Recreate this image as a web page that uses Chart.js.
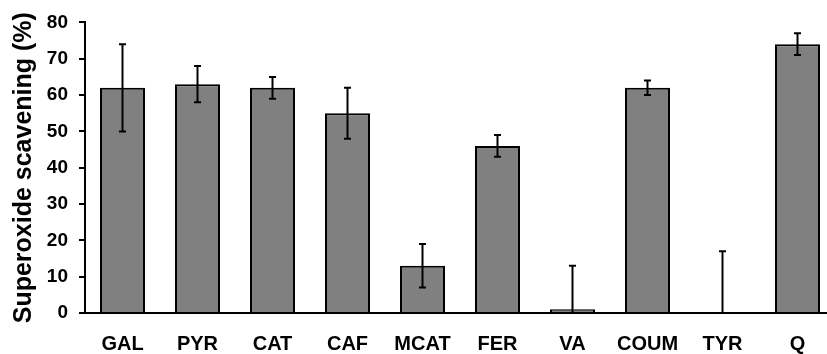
<!DOCTYPE html>
<html>
<head>
<meta charset="utf-8">
<script src="https://cdn.jsdelivr.net/npm/chart.js@4"></script>
<style>
    html, body { margin: 0; padding: 0; background: #fff; overflow: hidden; }
    #wrap { width: 835px; height: 367px; }
</style>
</head>
<body>
<div id="wrap"><canvas id="barChart"></canvas></div>
<script>
const compounds = ['GAL', 'PYR', 'CAT', 'CAF', 'MCAT', 'FER', 'VA', 'COUM', 'TYR', 'Q'];
const scavenging = [62, 63, 62, 55, 13, 46, 1, 62, 0, 74];
const errors = [12, 5, 3, 7, 6, 3, 12, 2, 17, 3];
const yTicks = [0, 10, 20, 30, 40, 50, 60, 70, 80];

// draw error bars from the scales, clipped to the chart area
const errorBars = {
    id: 'errorBars',
    afterDatasetsDraw(chart) {
        const ctx = chart.ctx;
        const area = chart.chartArea;
        const xs = chart.scales.x;
        const ys = chart.scales.y;
        ctx.save();
        ctx.beginPath();
        ctx.rect(area.left, area.top - 2, area.right - area.left, area.bottom - area.top + 2);
        ctx.clip();
        ctx.strokeStyle = '#000';
        ctx.lineWidth = 2;
        for (let i = 0; i < scavenging.length; i++) {
            const x = xs.getPixelForValue(i);
            const yHi = ys.getPixelForValue(scavenging[i] + errors[i]);
            const yLo = ys.getPixelForValue(scavenging[i] - errors[i]);
            ctx.beginPath();
            ctx.moveTo(x, yHi);
            ctx.lineTo(x, yLo);
            ctx.moveTo(x - 3.5, yHi);
            ctx.lineTo(x + 3.5, yHi);
            ctx.moveTo(x - 3.5, yLo);
            ctx.lineTo(x + 3.5, yLo);
            ctx.stroke();
        }
        ctx.restore();
    }
};

const config = {
    type: 'bar',
    data: {
        labels: compounds,
        datasets: [{
            data: scavenging,
            backgroundColor: '#808080',
            borderColor: '#000',
            borderWidth: 2,
            barPercentage: 0.6,
            categoryPercentage: 1.0
        }]
    },
    options: {
        responsive: true,
        maintainAspectRatio: false,
        animation: false,
        layout: { padding: { top: 22, left: 0, right: 0, bottom: 0 } },
        plugins: {
            legend: { display: false },
            tooltip: { enabled: false }
        },
        scales: {
            x: {
                grid: { display: false },
                border: { display: true, color: '#000', width: 2 },
                ticks: {
                    color: '#000',
                    padding: 11,
                    maxRotation: 0,
                    font: { family: 'Liberation Sans', size: 20, weight: 'bold' }
                }
            },
            y: {
                min: 0,
                max: 80,
                afterBuildTicks: (scale) => { scale.ticks = yTicks.map(v => ({ value: v })); },
                afterFit: (scale) => { scale.width = 85; },
                grid: {
                    drawOnChartArea: false,
                    drawTicks: true,
                    tickLength: 6,
                    color: '#000',
                    lineWidth: 2
                },
                border: { display: true, color: '#000', width: 2 },
                ticks: {
                    color: '#000',
                    padding: 11,
                    font: { family: 'Liberation Sans', size: 19, weight: 'bold' }
                },
                title: {
                    display: true,
                    text: 'Superoxide scavening (%)',
                    color: '#000',
                    padding: { top: 9, bottom: 0 },
                    font: { family: 'Liberation Sans', size: 25, weight: 'bold' }
                }
            }
        }
    },
    plugins: [errorBars]
};

new Chart(document.getElementById('barChart'), config);
</script>
</body>
</html>
